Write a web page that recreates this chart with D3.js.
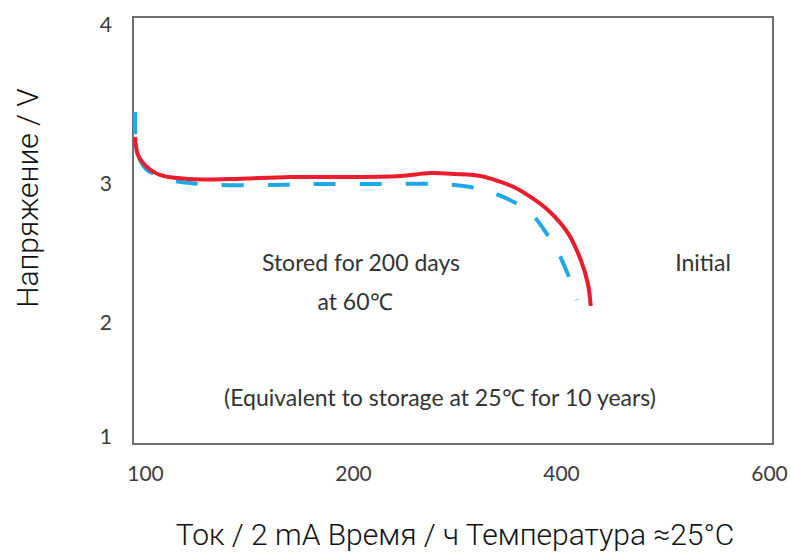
<!DOCTYPE html>
<html>
<head>
<meta charset="utf-8">
<script src="https://cdn.jsdelivr.net/npm/d3@7"></script>
<style>
  body { margin: 0; background: #fff; }
  svg { display: block; }
</style>
</head>
<body>
<svg id="chart"></svg>
<script>
// tick labels (evenly spaced on the original, not proportional)
const xTicks = [100, 200, 400, 600];
const yTicks = [1, 2, 3, 4];

// stored 200 days at 60°C (solid red)
const storedX = [95.2, 96.6, 100, 107.2, 121.6, 140.9, 169.7, 198.6, 245.4, 274.4, 298.6, 322.7, 342, 354.6, 371, 387.4, 406.7, 419, 425.7, 428.6];
const storedV = [3.296, 3.182, 3.119, 3.057, 3.031, 3.031, 3.044, 3.044, 3.05, 3.069, 3.063, 3.05, 3.013, 2.978, 2.906, 2.813, 2.647, 2.453, 2.288, 2.122];

// initial (dashed blue)
const initialX = [95.2, 95.3, 96.2, 97.6, 101, 105.8, 112, 121.6, 136, 160.1, 184.1, 226.1, 284.1, 313, 332.4, 356.5, 371, 388.4, 397.1, 407.6, 415.2];
const initialV = [3.453, 3.321, 3.226, 3.151, 3.088, 3.057, 3.025, 3.006, 2.993, 2.993, 3.0, 3.0, 3.0, 2.978, 2.942, 2.863, 2.791, 2.619, 2.511, 2.331, 2.165];

const width = 791, height = 553;
const frame = { left: 133, top: 17, right: 773, bottom: 444 };

const svg = d3.select("#chart").attr("width", width).attr("height", height);

// x: each tick label gets an equal slot
const xStep = 208;
const x = d3.scaleLinear()
  .domain(xTicks)
  .range(xTicks.map((d, i) => 145 + i * xStep));

// y: tick spacing on the original is uneven, so piecewise
const y = d3.scaleLinear()
  .domain(yTicks)
  .range([437, 323, 184, 25]);

// plot frame
svg.append("rect")
  .attr("x", frame.left)
  .attr("y", frame.top)
  .attr("width", frame.right - frame.left)
  .attr("height", frame.bottom - frame.top)
  .attr("fill", "none")
  .attr("stroke", "#6f6f6f")
  .attr("stroke-width", 2);

// axes: labels only
const xAxis = svg.append("g")
  .attr("transform", `translate(0,${frame.bottom})`)
  .call(d3.axisBottom(x).tickValues(xTicks).tickSize(0).tickPadding(22));

const yAxis = svg.append("g")
  .attr("transform", `translate(${frame.left},0)`)
  .call(d3.axisLeft(y).tickValues(yTicks).tickFormat(d3.format("d")).tickSize(0).tickPadding(21));

[xAxis, yAxis].forEach(g => {
  g.select(".domain").remove();
  g.selectAll("text")
    .style("font-family", "Lato, 'Open Sans', sans-serif")
    .style("font-size", "21px")
    .style("fill", "#3c3c3c");
});

const line = d3.line()
  .x(d => x(d[0]))
  .y(d => y(d[1]))
  .curve(d3.curveCatmullRom.alpha(0.5));

const storedData = storedX.map((d, i) => [d, storedV[i]]);
const initialData = initialX.map((d, i) => [d, initialV[i]]);

svg.append("path")
  .datum(initialData)
  .attr("d", line)
  .attr("fill", "none")
  .attr("stroke", "#1fa8e8")
  .attr("stroke-width", 4)
  .attr("stroke-dasharray", "22,24");

svg.append("path")
  .datum(storedData)
  .attr("d", line)
  .attr("fill", "none")
  .attr("stroke", "#ec1c2c")
  .attr("stroke-width", 4);

// annotations inside the frame
const notes = [
  { text: "Stored for 200 days", x: 361, y: 271 },
  { text: "at 60℃", x: 355, y: 310 },
  { text: "Initial", x: 703, y: 271 },
  { text: "(Equivalent to storage at 25℃ for 10 years)", x: 440, y: 406 }
];

svg.selectAll(".note")
  .data(notes)
  .join("text")
  .attr("class", "note")
  .attr("x", d => d.x)
  .attr("y", d => d.y)
  .attr("text-anchor", "middle")
  .style("font-family", "Lato, 'Open Sans', sans-serif")
  .style("font-size", "23px")
  .style("fill", "#333")
  .text(d => d.text);

// axis titles
svg.append("text")
  .attr("transform", `translate(38,198) rotate(-90)`)
  .attr("text-anchor", "middle")
  .style("font-family", "Roboto, 'Liberation Sans', sans-serif")
  .style("font-weight", 300)
  .style("font-size", "30px")
  .style("fill", "#111")
  .text("Напряжение / V");

svg.append("text")
  .attr("x", 455)
  .attr("y", 545)
  .attr("text-anchor", "middle")
  .style("font-family", "Roboto, 'Liberation Sans', sans-serif")
  .style("font-weight", 300)
  .style("font-size", "30px")
  .style("fill", "#111")
  .text("Ток / 2 mA Время / ч Температура ≈25°C");
</script>
</body>
</html>
